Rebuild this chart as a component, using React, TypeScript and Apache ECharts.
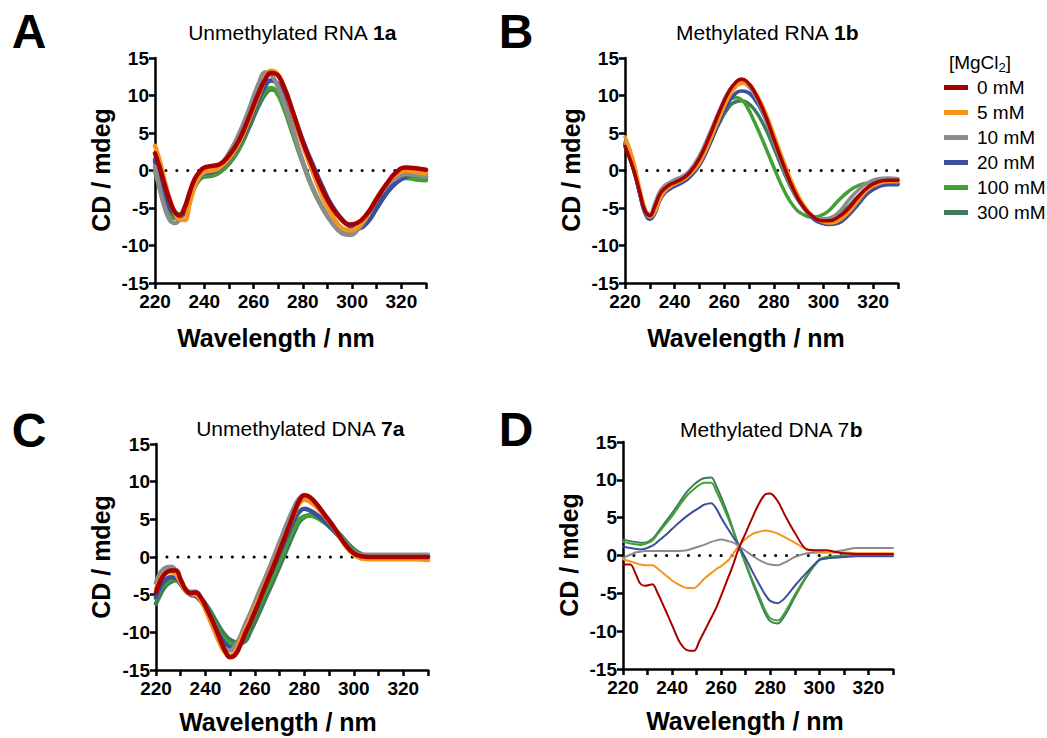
import React, { useEffect, useRef } from 'react';
import * as echarts from 'echarts';

const FONT = '"Liberation Sans", Arial, Helvetica, sans-serif';

const seriesNames = ['0 mM', '5 mM', '10 mM', '20 mM', '100 mM', '300 mM'];
const seriesColors = ['#a80000', '#f7941d', '#8c8c8c', '#3c4f9c', '#43a035', '#3e7b5a'];
const xRange = [220, 330];
const yRange = [-15, 15];

// Panel A: Unmethylated RNA 1a
const wlA = [220, 222, 224, 226, 228, 230, 232, 234, 236, 238, 240, 243, 246, 250, 254, 258, 262, 265, 267, 269, 272, 276, 280, 284, 288, 292, 296, 299, 302, 306, 310, 314, 318, 322, 326, 330];
const rnaA_0 = [2.3, 0.3, -2.0, -4.0, -5.5, -6.0, -5.0, -3.0, -1.2, -0.2, 0.4, 0.6, 0.8, 2.0, 4.0, 7.0, 10.3, 12.3, 13.0, 12.9, 11.4, 7.8, 3.8, 0.5, -2.6, -5.0, -6.6, -7.2, -7.0, -5.8, -3.8, -1.8, -0.2, 0.4, 0.3, 0.1];
const rnaA_5 = [3.3, 1.2, -1.5, -3.8, -5.6, -6.5, -6.6, -4.5, -2.2, -0.8, -0.2, 0.0, 0.3, 1.6, 3.6, 6.6, 10.0, 12.4, 13.3, 13.1, 11.5, 7.6, 3.4, -0.2, -3.5, -6.0, -7.7, -8.0, -7.6, -6.0, -3.8, -1.8, -0.5, 0.0, -0.2, -0.4];
const rnaA_10 = [0.5, -2.5, -5.0, -6.6, -7.0, -6.5, -5.0, -3.0, -1.5, -0.6, -0.2, 0.0, 0.5, 2.3, 4.8, 8.0, 11.5, 13.1, 12.8, 11.8, 9.4, 5.4, 1.2, -2.3, -5.0, -7.0, -8.4, -8.6, -8.0, -6.2, -3.8, -2.0, -1.0, -0.5, -0.6, -0.8];
const rnaA_20 = [1.2, -1.0, -3.3, -5.0, -5.9, -6.2, -5.6, -3.8, -2.0, -0.8, -0.3, -0.2, 0.2, 1.5, 3.4, 6.2, 9.5, 11.4, 12.0, 11.8, 10.6, 7.6, 4.0, 0.8, -2.2, -4.8, -6.6, -7.4, -7.7, -7.0, -5.0, -3.0, -1.6, -0.8, -0.5, -0.5];
const rnaA_100 = [0.0, -2.5, -4.6, -5.9, -6.3, -6.0, -5.0, -3.3, -1.9, -1.1, -0.7, -0.6, -0.2, 1.0, 3.0, 6.0, 9.2, 10.7, 11.0, 10.6, 8.6, 4.8, 1.0, -2.4, -5.0, -7.0, -8.2, -8.4, -7.8, -6.0, -3.7, -2.0, -1.1, -1.0, -1.2, -1.3];
const rnaA_300 = [1.5, -0.8, -3.0, -4.7, -5.6, -5.9, -5.5, -4.0, -2.3, -1.2, -0.8, -0.7, -0.3, 0.9, 2.8, 5.6, 8.6, 10.3, 10.8, 10.7, 9.6, 6.9, 3.6, 0.5, -2.4, -4.9, -6.6, -7.4, -7.6, -6.8, -5.0, -3.0, -1.6, -0.9, -0.8, -0.9];

// Panel B: Methylated RNA 1b
const wlB = [220, 222, 224, 226, 228, 230, 232, 234, 236, 238, 240, 243, 246, 250, 254, 258, 262, 265, 267, 269, 272, 276, 280, 284, 288, 292, 296, 299, 302, 306, 310, 314, 318, 322, 326, 330];
const rnaB_0 = [3.2, 1.5, -0.5, -3.0, -5.3, -6.0, -4.8, -3.2, -2.4, -1.9, -1.6, -1.1, -0.3, 1.6, 4.5, 7.8, 10.6, 11.9, 12.2, 11.9, 10.6, 7.8, 4.2, 0.6, -2.6, -4.9, -6.2, -6.7, -6.7, -6.2, -5.1, -3.5, -2.2, -1.5, -1.3, -1.3];
const rnaB_5 = [4.5, 2.8, 0.5, -2.5, -5.0, -6.2, -5.6, -3.8, -2.8, -2.2, -1.8, -1.3, -0.6, 1.0, 3.8, 7.0, 9.9, 11.3, 11.6, 11.6, 10.7, 8.2, 4.8, 1.2, -2.1, -4.6, -6.2, -6.8, -7.0, -6.7, -5.6, -4.0, -2.5, -1.8, -1.5, -1.5];
const rnaB_10 = [3.8, 2.0, -0.2, -2.8, -5.2, -5.8, -4.4, -2.8, -2.0, -1.6, -1.2, -0.8, 0.0, 2.0, 4.9, 8.0, 10.7, 11.6, 11.8, 11.5, 10.2, 7.4, 3.8, 0.3, -2.8, -5.0, -6.2, -6.5, -6.4, -5.6, -4.0, -2.6, -1.6, -1.1, -1.0, -1.1];
const rnaB_20 = [3.5, 1.7, -0.5, -3.2, -5.6, -6.5, -5.8, -4.0, -3.0, -2.5, -2.1, -1.6, -0.9, 0.7, 3.4, 6.5, 9.2, 10.4, 10.6, 10.5, 9.6, 7.3, 4.0, 0.6, -2.6, -5.0, -6.5, -7.0, -7.2, -7.0, -6.0, -4.5, -3.0, -2.2, -1.9, -1.9];
const rnaB_100 = [3.6, 1.8, -0.4, -3.0, -5.4, -6.0, -4.9, -3.4, -2.6, -2.2, -1.9, -1.4, -0.6, 1.2, 4.0, 7.1, 9.3, 9.7, 9.4, 8.6, 6.6, 3.6, 0.4, -2.6, -4.8, -5.9, -6.2, -6.0, -5.4, -4.0, -2.8, -2.0, -1.7, -1.7, -1.7, -1.7];
const rnaB_300 = [3.4, 1.6, -0.6, -3.2, -5.6, -6.2, -5.3, -3.7, -2.9, -2.4, -2.1, -1.6, -0.9, 0.8, 3.4, 6.3, 8.5, 9.2, 9.3, 9.1, 8.2, 6.0, 3.0, -0.2, -3.0, -5.0, -6.2, -6.5, -6.4, -5.9, -4.8, -3.4, -2.4, -1.9, -1.8, -1.8];

// Panel C: Unmethylated DNA 7a
const wlC = [220, 222, 224, 226, 228, 230, 232, 234, 236, 238, 240, 243, 246, 248, 250, 252, 254, 256, 258, 261, 264, 267, 270, 273, 276, 278, 280, 282, 285, 288, 291, 294, 297, 300, 303, 306, 310, 315, 320, 325, 330];
const dnaC_0 = [-4.7, -3.0, -2.1, -1.8, -1.8, -3.0, -4.3, -4.8, -4.7, -5.3, -6.5, -8.6, -11.0, -12.5, -13.3, -13.0, -11.8, -10.2, -8.8, -6.5, -4.0, -1.6, 0.9, 3.4, 6.0, 7.5, 8.2, 8.0, 7.0, 5.7, 4.4, 2.9, 1.5, 0.5, 0.1, 0.0, 0.0, 0.0, 0.0, 0.0, 0.0];
const dnaC_5 = [-4.2, -2.8, -2.1, -2.0, -2.3, -3.4, -4.5, -4.9, -5.0, -5.7, -7.0, -9.3, -11.6, -12.7, -13.1, -12.6, -11.2, -9.7, -8.3, -6.0, -3.7, -1.4, 1.0, 3.4, 5.8, 7.1, 7.6, 7.4, 6.6, 5.5, 4.3, 2.8, 1.3, 0.3, -0.2, -0.3, -0.3, -0.3, -0.3, -0.3, -0.4];
const dnaC_10 = [-3.4, -2.0, -1.4, -1.3, -1.8, -3.2, -4.4, -4.6, -4.6, -5.4, -6.8, -9.2, -11.4, -12.2, -12.4, -11.8, -10.6, -9.0, -7.6, -5.2, -2.9, -0.5, 2.0, 4.5, 6.7, 7.8, 8.2, 8.0, 7.0, 5.7, 4.4, 2.9, 1.6, 0.6, 0.3, 0.3, 0.3, 0.3, 0.3, 0.3, 0.3];
const dnaC_20 = [-5.3, -3.8, -3.0, -2.7, -2.8, -3.6, -4.5, -5.0, -5.2, -5.8, -6.8, -8.8, -10.6, -11.5, -12.0, -12.0, -11.2, -9.8, -8.4, -6.2, -4.0, -1.8, 0.5, 2.8, 5.0, 6.0, 6.4, 6.2, 5.6, 4.8, 3.8, 2.7, 1.5, 0.6, 0.2, 0.1, 0.1, 0.1, 0.1, 0.1, 0.1];
const dnaC_100 = [-5.5, -4.2, -3.4, -3.0, -3.0, -3.5, -4.4, -4.9, -5.1, -5.7, -6.6, -8.4, -10.2, -11.0, -11.5, -11.7, -11.4, -10.4, -9.0, -6.9, -4.8, -2.7, -0.5, 1.8, 4.0, 5.0, 5.4, 5.5, 5.2, 4.6, 3.8, 2.8, 1.7, 0.8, 0.3, 0.1, 0.1, 0.1, 0.1, 0.1, 0.1];
const dnaC_300 = [-6.2, -4.8, -3.8, -3.3, -3.1, -3.6, -4.5, -4.9, -5.1, -5.5, -6.2, -7.8, -9.5, -10.4, -11.0, -11.3, -11.4, -11.2, -10.0, -7.9, -5.7, -3.5, -1.2, 1.1, 3.4, 4.7, 5.3, 5.5, 5.4, 4.9, 4.1, 3.1, 2.0, 1.0, 0.4, 0.1, 0.1, 0.1, 0.1, 0.1, 0.1];

// Panel D: Methylated DNA 7b
const wlD = [220, 223, 225, 227, 229, 232, 234, 237, 240, 243, 246, 249, 251, 253, 256, 258, 260, 263, 265, 267, 270, 273, 275, 278, 280, 283, 286, 290, 295, 300, 303, 306, 310, 315, 320, 325, 330];
const dnaD_0 = [-1.2, -1.2, -2.3, -3.7, -4.0, -3.8, -4.9, -7.0, -9.2, -11.4, -12.5, -12.6, -11.4, -10.1, -8.2, -6.9, -5.3, -2.8, -1.1, 0.8, 3.0, 5.2, 6.6, 8.1, 8.2, 7.2, 5.3, 3.0, 0.8, 0.7, 0.7, 0.5, 0.3, 0.2, 0.2, 0.2, 0.2];
const dnaD_5 = [-0.5, -0.8, -1.0, -1.2, -1.3, -1.3, -1.7, -2.5, -3.3, -3.9, -4.3, -4.3, -3.8, -3.1, -2.3, -1.8, -1.4, -0.6, 0.3, 1.2, 2.2, 2.9, 3.1, 3.3, 3.2, 2.9, 2.4, 1.7, 0.8, 0.5, 0.4, 0.4, 0.4, 0.3, 0.3, 0.3, 0.3];
const dnaD_10 = [-0.3, 0.1, 0.4, 0.5, 0.6, 0.6, 0.6, 0.6, 0.6, 0.6, 0.7, 1.0, 1.2, 1.4, 1.8, 2.0, 2.1, 1.9, 1.7, 1.3, 0.6, -0.1, -0.5, -1.0, -1.2, -1.3, -0.9, -0.2, 0.3, 0.4, 0.4, 0.5, 0.7, 1.0, 1.0, 1.0, 1.0];
const dnaD_20 = [1.2, 1.0, 0.9, 0.8, 0.9, 1.3, 1.8, 2.6, 3.5, 4.4, 5.2, 5.9, 6.3, 6.7, 6.9, 6.2, 5.0, 3.4, 2.4, 1.4, -0.4, -2.3, -3.5, -5.2, -6.0, -6.3, -5.6, -4.0, -2.2, -0.6, -0.4, -0.3, -0.2, -0.1, -0.1, -0.1, -0.1];
const dnaD_100 = [1.8, 1.6, 1.5, 1.4, 1.5, 2.0, 2.8, 4.0, 5.2, 6.6, 7.9, 8.8, 9.3, 9.6, 9.6, 8.5, 7.1, 4.8, 3.1, 1.4, -1.0, -3.5, -5.0, -7.3, -8.3, -8.6, -7.5, -5.2, -2.6, -0.5, -0.2, -0.1, 0.0, 0.0, 0.1, 0.1, 0.1];
const dnaD_300 = [2.1, 1.9, 1.8, 1.7, 1.7, 2.2, 3.0, 4.3, 5.6, 7.0, 8.4, 9.4, 9.9, 10.2, 10.3, 9.2, 7.7, 5.2, 3.3, 1.4, -1.2, -3.8, -5.4, -7.7, -8.7, -9.0, -7.9, -5.5, -2.7, -0.6, -0.3, -0.2, 0.0, 0.0, 0.1, 0.1, 0.1];

const panels = [
  { wl: wlA, values: [rnaA_0, rnaA_5, rnaA_10, rnaA_20, rnaA_100, rnaA_300], width: 4.5, smooth: 0.5 },
  { wl: wlB, values: [rnaB_0, rnaB_5, rnaB_10, rnaB_20, rnaB_100, rnaB_300], width: 3.5, smooth: 0.5 },
  { wl: wlC, values: [dnaC_0, dnaC_5, dnaC_10, dnaC_20, dnaC_100, dnaC_300], width: 4.5, smooth: 0.5 },
  { wl: wlD, values: [dnaD_0, dnaD_5, dnaD_10, dnaD_20, dnaD_100, dnaD_300], width: 2, smooth: 0.3 },
];

const gridBoxes = [
  { left: 155, top: 58, width: 271, height: 225 },
  { left: 625, top: 58, width: 273, height: 225 },
  { left: 156, top: 444, width: 272, height: 226 },
  { left: 623, top: 442, width: 270, height: 227 },
];

const panelLetters = ['A', 'B', 'C', 'D'];
const letterPos = [[29, 31], [516, 31], [29, 430], [516, 429]];
const titleRich = ['Unmethylated RNA {b|1a}', 'Methylated RNA {b|1b}', 'Unmethylated DNA {b|7a}', 'Methylated DNA 7{b|b}'];
const titlePos = [[292, 32], [767, 32], [300, 428], [771, 429]];
const yNamePos = [[101, 170], [571, 170], [101, 557], [569, 555]];
const xNamePos = [[276, 338], [746, 338], [278, 722], [745, 721]];

export default function App() {
  const ref = useRef<HTMLDivElement>(null);
  useEffect(() => {
    if (!ref.current) return;
    const chart = echarts.init(ref.current, undefined, { renderer: 'svg' });

    const grid = gridBoxes.map((g) => ({ ...g, containLabel: false }));
    const xAxis = gridBoxes.map((_, i) => ({
      type: 'value',
      gridIndex: i,
      min: xRange[0],
      max: xRange[1],
      interval: 10,
      axisLine: { onZero: false, lineStyle: { color: '#000', width: 2.5 } },
      axisTick: { length: 6, lineStyle: { color: '#000', width: 2.5 } },
      splitLine: { show: false },
      axisLabel: {
        margin: 9,
        color: '#000',
        fontWeight: 'bold',
        fontSize: 19,
        fontFamily: FONT,
        formatter: (v: number) => (v % 20 === 0 && v < 330 ? String(v) : ''),
      },
    }));
    const yAxis = gridBoxes.map((_, i) => ({
      type: 'value',
      gridIndex: i,
      min: yRange[0],
      max: yRange[1],
      interval: 5,
      axisLine: { show: true, onZero: false, lineStyle: { color: '#000', width: 2.5 } },
      axisTick: { show: true, length: 6, lineStyle: { color: '#000', width: 2.5 } },
      splitLine: { show: false },
      axisLabel: { margin: 6, color: '#000', fontWeight: 'bold', fontSize: 19, fontFamily: FONT },
    }));

    const series: any[] = [];
    panels.forEach((p, gi) => {
      series.push({
        name: 'zero',
        type: 'line',
        xAxisIndex: gi,
        yAxisIndex: gi,
        data: [[xRange[0], 0], [xRange[1], 0]],
        symbol: 'none',
        silent: true,
        lineStyle: { color: '#000', width: 3, type: [0.1, 10.8], cap: 'round' },
      });
      const order = [5, 4, 3, 2, 1, 0];
      order.forEach((si) => {
        series.push({
          name: seriesNames[si],
          type: 'line',
          xAxisIndex: gi,
          yAxisIndex: gi,
          data: p.wl.map((w, k) => [w, p.values[si][k]]),
          symbol: 'none',
          smooth: p.smooth,
          color: seriesColors[si],
          lineStyle: { color: seriesColors[si], width: p.width, cap: 'round', join: 'round' },
        });
      });
    });

    const graphic: any[] = [];
    panelLetters.forEach((l, i) => {
      graphic.push({
        type: 'text',
        x: letterPos[i][0],
        y: letterPos[i][1],
        style: { text: l, font: `bold 48px ${FONT}`, fill: '#000', textAlign: 'center', textVerticalAlign: 'middle' },
      });
      graphic.push({
        type: 'text',
        x: titlePos[i][0],
        y: titlePos[i][1],
        style: {
          text: titleRich[i],
          fill: '#000',
          fontSize: 21,
          fontFamily: FONT,
          textAlign: 'center',
          textVerticalAlign: 'middle',
          rich: { b: { fontWeight: 'bold', fontSize: 21, fontFamily: FONT, fill: '#000' } },
        },
      });
      graphic.push({
        type: 'text',
        x: yNamePos[i][0],
        y: yNamePos[i][1],
        rotation: Math.PI / 2,
        style: { text: 'CD / mdeg', font: `bold 25px ${FONT}`, fill: '#000', textAlign: 'center', textVerticalAlign: 'middle' },
      });
      graphic.push({
        type: 'text',
        x: xNamePos[i][0],
        y: xNamePos[i][1],
        style: { text: 'Wavelength / nm', font: `bold 25px ${FONT}`, fill: '#000', textAlign: 'center', textVerticalAlign: 'middle' },
      });
    });
    graphic.push({
      type: 'text',
      x: 980,
      y: 62,
      style: {
        text: '{a|[MgCl}{s|2}{a|]}',
        textAlign: 'center',
        textVerticalAlign: 'middle',
        rich: {
          a: { fontSize: 19, fontFamily: FONT, fill: '#000', lineHeight: 24 },
          s: { fontSize: 13, fontFamily: FONT, fill: '#000', lineHeight: 13, verticalAlign: 'bottom' },
        },
      },
    });

    chart.setOption({
      animation: false,
      backgroundColor: '#fff',
      grid,
      xAxis,
      yAxis,
      series,
      graphic,
      legend: {
        data: seriesNames,
        orient: 'vertical',
        left: 939,
        top: 73,
        itemWidth: 24,
        itemHeight: 5,
        itemGap: 6,
        icon: 'rect',
        selectedMode: false,
        textStyle: { fontSize: 19, fontFamily: FONT, color: '#000', padding: [0, 0, 0, 4] },
      },
    });
    return () => chart.dispose();
  }, []);
  return <div ref={ref} style={{ position: 'fixed', left: 0, top: 0, width: 1047, height: 738 }} />;
}
